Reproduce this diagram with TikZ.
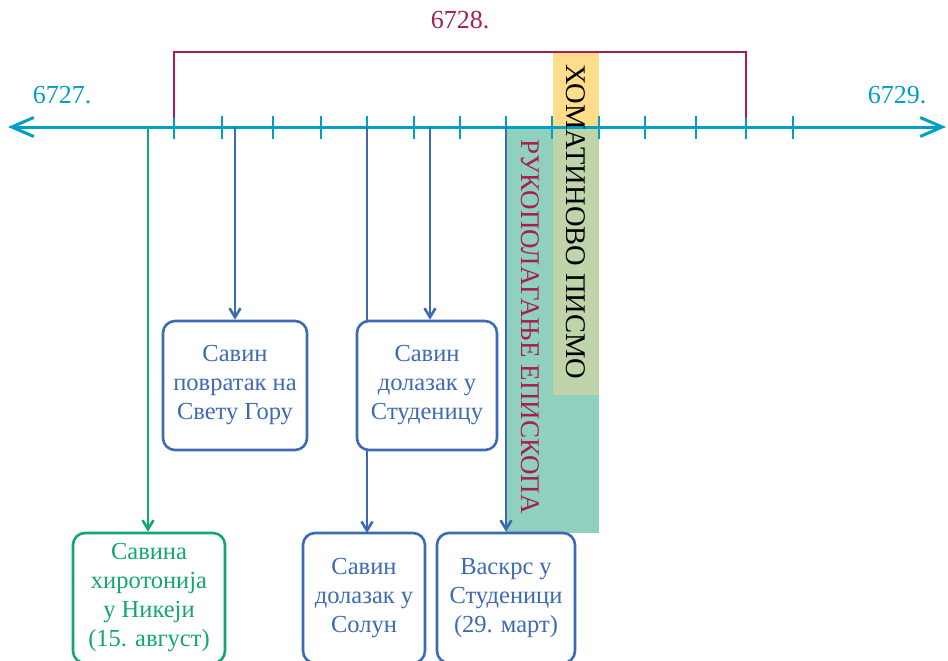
\documentclass[tikz,border=0pt]{standalone}
\usepackage{fontspec}
\setmainfont{Liberation Serif}
\usetikzlibrary{arrows.meta,positioning}
\definecolor{axiscol}{RGB}{0,159,196}
\definecolor{crimson}{RGB}{167,30,82}
\definecolor{evblue}{RGB}{61,106,179}
\definecolor{evgreen}{RGB}{18,166,114}
\definecolor{tealfill}{RGB}{143,208,190}
\definecolor{yellowfill}{RGB}{253,221,138}
\definecolor{mixfill}{RGB}{192,212,170}
\tikzset{
  event/.style={draw=evblue,text=evblue,fill=white,line width=2.6pt,rounded corners=12pt,
    align=center,font=\fontsize{24.5}{29}\selectfont,inner sep=0pt},
  link/.style={evblue,line width=2.6pt,-{Straight Barb[length=9pt,width=11pt]}},
  yearlab/.style={text=axiscol,font=\fontsize{26}{30}\selectfont},
}
\begin{document}
\begin{tikzpicture}[x=1pt,y=-1pt]
      \useasboundingbox (0,0) rectangle (948,661);
      \fill[tealfill] (506,127) rectangle (599,533);
      \fill[yellowfill] (553,52) rectangle (599,127);
      \fill[mixfill] (553,127) rectangle (599,395);
      \draw[axiscol,line width=3pt,{Straight Barb[length=22pt,width=19pt]}-{Straight Barb[length=22pt,width=19pt]}] (8,127) -- (946,127);
      \foreach \x in {174,222,273,321,367,414,460,506,552,599,645,696,746,793}
        \draw[axiscol,line width=2.8pt] (\x,116) -- (\x,139);
      \draw[crimson,line width=2.8pt] (174,118) -- (174,52) -- (746,52) -- (746,118);
      \node[yearlab] (y27) at (62,95) {6727.};
      \node[yearlab] (y29) at (897,95) {6729.};
      \node[yearlab,text=crimson] (y28) at (460,20) {6728.};
      \node[rotate=-90,font=\fontsize{28.5}{30}\selectfont] (pismo) at (576,222) {ХОМАТИНОВО ПИСМО};
      \node[rotate=-90,text=crimson,font=\fontsize{27}{30}\selectfont] (ruko) at (530,327) {РУКОПОЛАГАЊЕ ЕПИСКОПА};
      % points on the axis
      \coordinate (t1) at (148,127);
      \coordinate (t2) at (235,127);
      \coordinate (t3) at (367,127);
      \coordinate (t4) at (430,127);
      \coordinate (t5) at (506,127);
      \draw[link] (t3) -- (t3 |- 0,533);
      \node[event,minimum width=144pt,minimum height=129pt] (gora) at (235,385.5) {Савин\\повратак на\\Свету Гору};
      \node[event,minimum width=140pt,minimum height=129pt] (stud) at (427,385.5) {Савин\\долазак у\\Студеницу};
      \node[event,draw=evgreen,text=evgreen,minimum width=152pt,minimum height=130pt] (hiro) at (149,598) {Савина\\хиротонија\\у Никеји\\(15. август)};
      \node[event,minimum width=122pt,minimum height=130pt] (solun) at (364,598) {Савин\\долазак у\\Солун};
      \node[event,minimum width=138pt,minimum height=130pt] (vaskrs) at (506,598) {Васкрс у\\Студеници\\(29. март)};
      \draw[link,evgreen] (t1) -- (t1 |- hiro.north);
      \draw[link] (t2) -- (gora.north);
      \draw[link] (t4) -- (t4 |- stud.north);
      \draw[link] (t5) -- (vaskrs.north);
    \end{tikzpicture}
\end{document}
